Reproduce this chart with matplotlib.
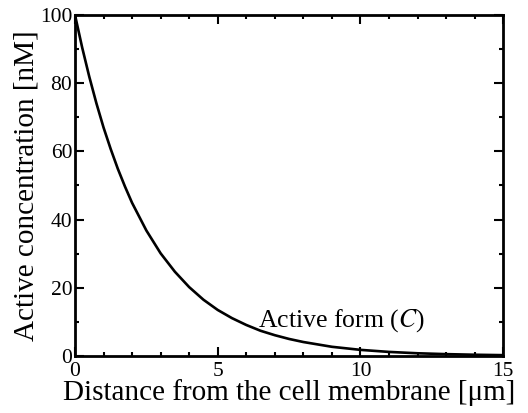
import matplotlib
matplotlib.use("Agg")
import matplotlib.pyplot as plt
from matplotlib.ticker import MultipleLocator

# valores
distancia = [0, 0.25, 0.5, 0.75, 1, 1.25, 1.5, 1.75, 2, 2.5, 3, 3.5, 4, 4.5, 5,
             5.5, 6, 6.5, 7, 7.5, 8, 9, 10, 11, 12, 13, 14, 15]
concentracao = [100, 90.5, 81.9, 74.1, 67.0, 60.7, 54.9, 49.7, 44.9, 36.8, 30.1,
                24.7, 20.2, 16.5, 13.5, 11.1, 9.1, 7.4, 6.1, 5.0, 4.1, 2.7, 1.8,
                1.2, 0.8, 0.55, 0.37, 0.25]

plt.rcParams['font.family'] = ['Liberation Serif', 'DejaVu Serif']
plt.rcParams['mathtext.fontset'] = 'stix'

fig = plt.figure(figsize=(5.28, 4.13), dpi=100)
ax = fig.add_axes([0.142, 0.138, 0.811, 0.826])

ax.plot(distancia, concentracao, color='black', linewidth=1.9)
ax.text(6.4, 8.5, "Active form ($\\it{C}$)", fontsize=18.5)

ax.set_xlim(0, 15)
ax.set_ylim(0, 100)
ax.xaxis.set_major_locator(MultipleLocator(5))
ax.xaxis.set_minor_locator(MultipleLocator(1))
ax.yaxis.set_major_locator(MultipleLocator(20))
ax.yaxis.set_minor_locator(MultipleLocator(10))
ax.tick_params(which='both', direction='in', top=True, right=True, width=1.5,
               labelsize=15.5)
ax.tick_params(which='major', length=6.5)
ax.tick_params(which='minor', length=3.2)
ax.tick_params(axis='x', which='major', pad=4)
ax.tick_params(axis='y', which='major', pad=2)
for s in ax.spines.values():
    s.set_linewidth(2)

ax.set_xlabel("Distance from the cell membrane [μm]", fontsize=21, labelpad=-1)
ax.set_ylabel("Active concentration [nM]", fontsize=21, labelpad=0)

fig.savefig("out.png", dpi=100)
